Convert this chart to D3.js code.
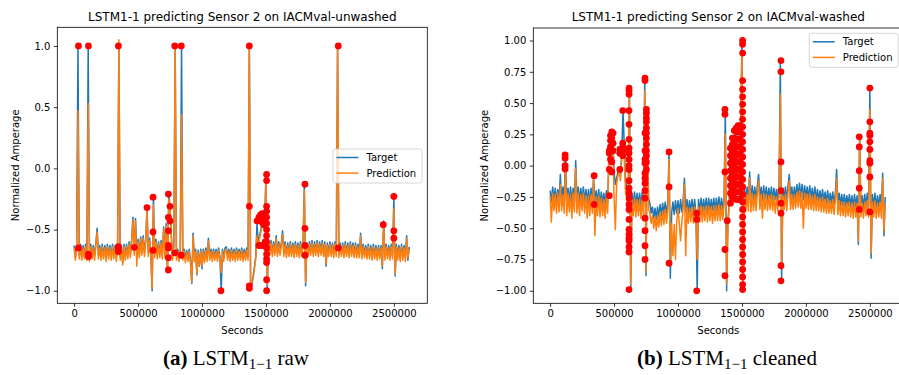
<!DOCTYPE html>
<html><head><meta charset="utf-8">
<script src="https://cdn.jsdelivr.net/npm/d3@7/dist/d3.min.js"></script>
<style>
body{margin:0;background:#fff;}
svg{display:block;}
text{font-family:"DejaVu Sans",sans-serif;fill:#000;}
.cap{font-family:"Liberation Serif","Times New Roman",serif;}
</style></head>
<body>
<svg id="chart" width="899" height="375"></svg>
<script>
// ---------------- DATA ----------------
const sampleStep = 10000; // seconds between samples
const xTicks = [0, 500000, 1000000, 1500000, 2000000, 2500000];
const leftYTicks = [-1.0, -0.5, 0.0, 0.5, 1.0];
const rightYTicks = [-1.0, -0.75, -0.5, -0.25, 0.0, 0.25, 0.5, 0.75, 1.0];
const seriesNames = ["Target", "Prediction"];
const titles = ["LSTM1-1 predicting Sensor 2 on IACMval-unwashed", "LSTM1-1 predicting Sensor 2 on IACMval-washed"];

const leftTarget = [
-0.63,-0.72,-0.64,1.00,-0.71,-0.62,-0.72,-0.63,-0.71,-0.62,
-0.72,1.00,-0.73,-0.62,-0.71,-0.63,-0.72,-0.61,-0.49,-0.71,
-0.63,-0.72,-0.62,-0.71,-0.63,-0.73,-0.62,-0.71,-0.63,-0.72,
-0.62,-0.71,-0.63,-0.73,-0.62,1.00,-0.72,-0.63,-0.77,-0.62,
-0.72,-0.62,-0.71,-0.60,-0.70,-0.58,-0.40,-0.68,-0.41,-0.70,
-0.58,-0.70,-0.56,-0.68,-0.55,-0.69,-0.58,-0.32,-0.69,-0.57,
-0.70,-1.00,-0.235,-0.70,-0.58,-0.71,-0.60,-0.70,-0.59,-0.71,
-0.48,-0.70,-0.45,-0.85,-0.21,-0.31,-0.55,-0.72,-0.62,1.00,
-0.72,-0.66,-0.73,-0.67,1.00,-0.72,-0.66,-0.74,-0.67,-0.73,
-0.66,-0.75,-0.94,-0.53,-0.73,-0.66,-0.87,-0.67,-0.80,-0.66,
-0.82,-0.66,-0.74,-0.65,-0.73,-0.57,-0.72,-0.66,-0.73,-0.66,
-0.72,-0.66,-0.73,-0.65,-0.72,-1.00,-0.66,-0.73,-0.65,-0.64,
-0.72,-0.66,-0.73,-0.65,-0.72,-0.66,-0.73,-0.65,-0.72,-0.66,
-0.72,-0.65,-0.73,-0.66,-0.72,-0.65,-0.72,1.00,-0.98,-0.95,
-0.88,-0.80,-0.72,-0.45,-0.62,-0.55,-0.50,-0.45,-0.40,-0.43,
-0.05,-1.00,-0.60,-0.68,-0.59,-0.69,-0.60,-0.68,-0.55,-0.69,
-0.60,-0.68,-0.61,-0.51,-0.69,-0.60,-0.70,-0.61,-0.69,-0.60,
-0.69,-0.61,-0.70,-0.60,-0.69,-0.61,-0.70,-0.60,-0.69,-0.61,
-0.13,-0.96,-0.61,-0.69,-0.60,-0.68,-0.59,-0.69,-0.60,-0.68,
-0.59,-0.69,-0.60,-0.68,-0.59,-0.69,-0.60,-0.80,-0.61,-0.69,
-0.60,-0.69,-0.61,-0.70,-0.60,-0.69,1.00,-0.70,-0.61,-0.69,
-0.61,-0.70,-0.60,-0.69,-0.61,-0.70,-0.60,-0.69,-0.61,-0.70,
-0.61,-0.70,-0.62,-0.70,-0.53,-0.71,-0.62,-0.70,-0.63,-0.71,
-0.62,-0.71,-0.63,-0.72,-0.62,-0.71,-0.63,-0.72,-0.63,-0.71,
-0.63,-0.82,-0.43,-0.72,-0.62,-0.71,-0.63,-0.72,-0.62,-0.71,
-0.23,-0.88,-0.62,-0.72,-0.63,-0.73,-0.62,-0.72,-0.63,-0.73,
-0.55,-0.75,-0.64];

const leftPrediction = [
-0.65,-0.75,-0.66,0.47,-0.74,-0.64,-0.75,-0.65,-0.74,-0.64,
-0.75,0.53,-0.76,-0.64,-0.74,-0.65,-0.75,-0.63,-0.52,-0.74,
-0.65,-0.75,-0.64,-0.74,-0.65,-0.76,-0.64,-0.74,-0.65,-0.75,
-0.64,-0.74,-0.65,-0.76,-0.64,1.05,-0.75,-0.65,-0.79,-0.64,
-0.75,-0.64,-0.74,-0.62,-0.73,-0.60,-0.42,-0.71,-0.43,-0.80,
-0.60,-0.73,-0.58,-0.71,-0.57,-0.72,-0.60,-0.34,-0.72,-0.59,
-0.73,-0.98,-0.30,-0.73,-0.60,-0.74,-0.62,-0.73,-0.61,-0.74,
-0.50,-0.73,-0.47,-0.85,-0.25,-0.33,-0.57,-0.75,-0.64,1.00,
-0.75,-0.68,-0.76,-0.69,0.44,-0.75,-0.68,-0.77,-0.69,-0.76,
-0.68,-0.78,-0.93,-0.55,-0.76,-0.68,-0.86,-0.69,-0.79,-0.68,
-0.80,-0.68,-0.77,-0.67,-0.76,-0.59,-0.75,-0.68,-0.76,-0.68,
-0.75,-0.68,-0.76,-0.67,-0.75,-0.85,-0.68,-0.76,-0.67,-0.66,
-0.75,-0.68,-0.76,-0.67,-0.75,-0.68,-0.76,-0.67,-0.75,-0.68,
-0.75,-0.67,-0.76,-0.68,-0.75,-0.67,-0.75,1.00,-0.96,-0.92,
-0.90,-0.82,-0.74,-0.55,-0.64,-0.57,-0.52,-0.47,-0.42,-0.46,
-0.10,-0.95,-0.62,-0.71,-0.61,-0.72,-0.62,-0.71,-0.57,-0.72,
-0.62,-0.71,-0.63,-0.54,-0.72,-0.62,-0.73,-0.63,-0.72,-0.62,
-0.72,-0.63,-0.73,-0.62,-0.72,-0.63,-0.73,-0.62,-0.72,-0.63,
-0.18,-0.93,-0.63,-0.72,-0.62,-0.71,-0.61,-0.72,-0.62,-0.71,
-0.61,-0.72,-0.62,-0.71,-0.61,-0.72,-0.62,-0.78,-0.63,-0.72,
-0.62,-0.72,-0.63,-0.73,-0.62,-0.72,1.00,-0.73,-0.63,-0.72,
-0.63,-0.73,-0.62,-0.72,-0.63,-0.73,-0.62,-0.72,-0.63,-0.73,
-0.63,-0.73,-0.64,-0.73,-0.55,-0.74,-0.64,-0.73,-0.65,-0.74,
-0.64,-0.74,-0.65,-0.75,-0.64,-0.74,-0.65,-0.75,-0.65,-0.74,
-0.65,-0.80,-0.45,-0.75,-0.64,-0.74,-0.65,-0.75,-0.64,-0.74,
-0.33,-0.86,-0.64,-0.75,-0.65,-0.76,-0.64,-0.75,-0.65,-0.76,
-0.57,-0.73,-0.66];

const rightTarget = [
-0.20,-0.29,-0.17,-0.28,-0.18,-0.30,-0.19,-0.28,-0.07,-0.29,
-0.17,-0.29,0.09,-0.30,-0.18,-0.29,-0.17,-0.30,-0.18,-0.29,
0.04,-0.29,-0.17,-0.30,-0.18,-0.28,-0.17,-0.29,-0.19,-0.30,
-0.19,-0.31,-0.18,-0.30,-0.08,-0.31,-0.20,-0.31,-0.19,-0.32,
-0.21,-0.31,-0.22,-0.32,-0.20,-0.30,0.12,0.27,0.20,0.24,
-0.05,-0.15,-0.10,-0.05,-0.03,-0.08,0.10,0.44,0.15,-0.12,
-0.18,-0.30,0.62,-0.99,-0.22,-0.32,-0.21,-0.33,-0.22,-0.32,
-0.22,-0.33,-0.21,-0.32,0.70,-0.88,0.45,-0.26,-0.30,-0.38,
-0.33,-0.42,-0.34,-0.43,-0.33,-0.41,-0.31,-0.40,-0.30,-0.39,
-0.29,-0.38,-0.30,0.11,-0.90,-0.38,-0.29,-0.39,-0.28,-0.38,
-0.28,-0.38,-0.27,-0.37,-0.28,-0.10,-0.37,-0.27,-0.38,-0.28,
-0.37,-0.27,-0.38,-0.27,-0.38,-1.00,-0.27,-0.37,-0.26,-0.37,
-0.27,-0.36,-0.26,-0.37,-0.26,-0.36,-0.27,-0.36,-0.26,-0.37,
-0.26,-0.36,-0.25,-0.36,-0.26,-0.35,-0.26,0.45,-1.00,-0.44,
-0.30,0.10,-0.25,0.20,-0.15,0.30,-0.10,0.25,-0.20,0.32,
1.00,-1.00,-0.18,-0.29,-0.17,-0.28,-0.05,-0.29,-0.16,-0.28,
-0.17,-0.28,-0.16,-0.07,-0.27,-0.17,-0.28,-0.16,-0.27,-0.17,
-0.28,-0.18,-0.27,-0.17,-0.28,-0.18,-0.27,-0.19,-0.28,-0.18,
0.84,-0.92,-0.18,-0.27,-0.17,-0.28,-0.16,-0.07,-0.27,-0.17,
-0.27,-0.17,-0.26,-0.15,-0.25,-0.14,-0.26,-0.15,-0.27,-0.16,
-0.26,-0.17,-0.27,-0.16,-0.27,-0.18,-0.28,-0.17,-0.28,-0.19,
-0.28,-0.20,-0.29,-0.19,-0.29,-0.21,-0.30,-0.20,-0.30,-0.22,
-0.30,-0.21,-0.31,-0.22,-0.03,-0.31,-0.22,-0.32,-0.23,-0.32,
-0.23,-0.33,-0.24,-0.32,-0.23,-0.33,-0.24,-0.34,-0.23,-0.33,
-0.24,-0.63,0.23,-0.33,-0.24,-0.34,-0.23,-0.32,-0.22,-0.33,
0.62,-0.74,-0.23,-0.33,-0.22,-0.34,-0.24,-0.33,-0.23,-0.34,
-0.06,-0.56,-0.25];

const rightPrediction = [
-0.24,-0.45,-0.22,-0.36,-0.23,-0.38,-0.22,-0.37,-0.15,-0.36,
-0.23,-0.38,0.00,-0.40,-0.22,-0.37,-0.23,-0.42,-0.22,-0.37,
-0.02,-0.38,-0.22,-0.40,-0.23,-0.36,-0.22,-0.38,-0.24,-0.42,
-0.24,-0.40,-0.23,-0.38,-0.10,-0.56,-0.25,-0.40,-0.24,-0.41,
-0.26,-0.40,-0.27,-0.42,-0.25,-0.38,0.10,0.25,0.15,0.20,
-0.24,-0.51,-0.15,-0.08,-0.05,-0.12,0.05,0.18,0.05,-0.22,
-0.25,-0.38,0.55,-0.95,-0.27,-0.40,-0.26,-0.41,-0.27,-0.40,
-0.27,-0.42,-0.26,-0.41,0.60,-0.85,0.40,-0.35,-0.38,-0.46,
-0.40,-0.50,-0.41,-0.52,-0.40,-0.49,-0.37,-0.48,-0.36,-0.47,
-0.35,-0.46,-0.36,0.05,-0.78,-0.46,-0.72,-0.47,-0.75,-0.45,
-0.34,-0.46,-0.60,-0.45,-0.34,-0.15,-0.72,-0.33,-0.46,-0.34,
-0.45,-0.33,-0.46,-0.33,-0.43,-0.75,-0.33,-0.45,-0.32,-0.45,
-0.33,-0.44,-0.32,-0.45,-0.32,-0.44,-0.33,-0.46,-0.32,-0.44,
-0.32,-0.44,-0.31,-0.44,-0.32,-0.43,-0.32,0.25,-0.95,-0.50,
-0.32,0.05,-0.28,0.15,-0.20,0.25,-0.15,0.20,-0.25,0.28,
0.90,-0.95,-0.24,-0.37,-0.23,-0.36,-0.10,-0.37,-0.22,-0.36,
-0.23,-0.36,-0.22,-0.12,-0.35,-0.23,-0.42,-0.22,-0.35,-0.23,
-0.36,-0.24,-0.35,-0.23,-0.36,-0.24,-0.38,-0.25,-0.36,-0.24,
0.57,-0.80,-0.24,-0.35,-0.23,-0.36,-0.22,-0.12,-0.35,-0.23,
-0.35,-0.23,-0.34,-0.21,-0.33,-0.20,-0.34,-0.21,-0.50,-0.22,
-0.34,-0.23,-0.35,-0.22,-0.35,-0.24,-0.36,-0.23,-0.36,-0.25,
-0.36,-0.26,-0.37,-0.25,-0.37,-0.27,-0.38,-0.26,-0.38,-0.28,
-0.38,-0.27,-0.39,-0.28,-0.10,-0.39,-0.28,-0.40,-0.29,-0.40,
-0.29,-0.41,-0.30,-0.40,-0.29,-0.41,-0.30,-0.42,-0.29,-0.41,
-0.30,-0.60,0.20,-0.41,-0.30,-0.42,-0.29,-0.40,-0.28,-0.41,
0.45,-0.70,-0.29,-0.41,-0.28,-0.42,-0.30,-0.41,-0.29,-0.42,
-0.10,-0.52,-0.31];

// anomalies: [seconds, [values]]
const leftAnomalies = [
[34000,[1.0,-0.65]],
[112000,[1.0,-0.70,-0.72]],
[346000,[1.0,-0.64,-0.66,-0.68]],
[471000,[-0.645]],
[570000,[-0.32]],
[617000,[-0.235,-0.52,-0.67]],
[737000,[-0.21,-0.40,-0.51,-0.63,-0.65,-0.73,-0.83]],
[750000,[-0.31,-0.43]],
[787000,[1.0,-0.69]],
[838000,[1.0,-0.71]],
[1148000,[-1.0]],
[1370000,[1.0,-0.31,-0.96,-0.98]],
[1430000,[-0.43]],
[1445000,[-0.40,-0.63]],
[1458000,[-0.38,-0.42]],
[1470000,[-0.37,-0.41,-0.44,-0.63]],
[1482000,[-0.38,-0.42,-0.46]],
[1493000,[-0.40,-0.44,-0.60]],
[1505000,[-0.05,-0.10,-0.31,-0.35,-0.40,-0.45,-0.50,-0.55,-0.60,-0.65,-0.70,-0.74,-0.77,-0.91,-1.0]],
[1805000,[-0.13,-0.49,-0.63,-0.71]],
[2065000,[1.0,-0.65]],
[2417000,[-0.46]],
[2500000,[-0.23,-0.51,-0.57]]
];

const rightAnomalies = [
[117000,[0.085,0.06,0.0,-0.026]],
[344000,[-0.08,-0.31]],
[463000,[0.12,0.10,-0.03,-0.24]],
[472000,[0.24,0.20,0.15,0.05]],
[482000,[0.27,0.22,0.03,-0.05]],
[492000,[0.26,0.18,0.12]],
[545000,[-0.03,0.10,0.13]],
[568000,[0.44,0.18,0.15,0.12,0.08]],
[617000,[0.62,0.60,0.57,0.44,0.33,0.21,0.14,0.10,0.05,0.0,-0.03,-0.12,-0.18,-0.22,-0.26,-0.31,-0.35,-0.43,-0.51,-0.55,-0.58,-0.60,-0.65,-0.69,-0.99]],
[742000,[0.70,0.68,0.26,0.12,0.05,0.02,-0.06,-0.10,-0.14,-0.20,-0.26,-0.42,-0.52,-0.64,-0.75]],
[753000,[0.45,0.42,0.38,0.35,0.30,0.26,0.22,0.17,0.12,0.08,0.03,-0.03]],
[930000,[0.11,-0.17,-0.78]],
[1146000,[-0.38,-0.43,-1.0]],
[1367000,[0.45,0.41,-0.05,-0.67,-0.88]],
[1385000,[-0.44]],
[1410000,[-0.30,-0.22,-0.16,-0.10,-0.04,0.02,0.08,0.14]],
[1425000,[-0.25,-0.19,-0.13,-0.07,-0.01,0.05,0.11,0.17,0.22]],
[1440000,[-0.26,-0.20,-0.14,-0.08,-0.02,0.04,0.10,0.16,0.22,0.28]],
[1455000,[-0.27,-0.21,-0.15,-0.09,-0.03,0.03,0.09,0.15,0.21,0.27,0.30]],
[1470000,[-0.27,-0.21,-0.15,-0.09,-0.03,0.03,0.09,0.15,0.21,0.27,0.32]],
[1485000,[-0.27,-0.21,-0.15,-0.09,-0.03,0.03,0.09,0.15,0.21,0.27,0.32]],
[1505000,[1.0,0.97,0.90,0.68,0.61,0.55,0.49,0.43,0.37,0.31,0.25,0.19,0.13,0.07,0.01,-0.05,-0.11,-0.17,-0.23,-0.29,-0.35,-0.41,-0.47,-0.53,-0.59,-0.65,-0.71,-0.77,-0.83,-0.89,-0.95,-0.99]],
[1805000,[0.84,0.75,0.03,-0.20,-0.30,-0.38,-0.80,-0.92]],
[2417000,[0.23,0.15,-0.04,-0.18,-0.35]],
[2500000,[0.62,0.35,0.26,0.24,0.19,0.13,0.04,0.02,-0.09,-0.37]]
];

// ---------------- DRAW ----------------
const svg = d3.select("#chart");
const colors = {target:"#1f77b4", pred:"#ff7f0e", dot:"#ff0000"};

function panel(cfg){
  const g = svg.append("g");
  const x = d3.scaleLinear().domain([-131500, 2761500]).range([cfg.left, cfg.left+370]);
  const y = d3.scaleLinear().domain(cfg.yDomain).range([303.3, cfg.top]);
  const clipId = "clip"+cfg.id;
  svg.append("defs").append("clipPath").attr("id", clipId)
    .append("rect").attr("x", cfg.left).attr("y", cfg.top).attr("width", 370).attr("height", 303.3-cfg.top);

  const line = d3.line().x((d,i)=>x(i*sampleStep)).y(d=>y(d));
  const plot = g.append("g").attr("clip-path", `url(#${clipId})`);
  plot.append("path").datum(cfg.target).attr("d", line)
    .attr("fill","none").attr("stroke",colors.target).attr("stroke-width",1.5).attr("stroke-linejoin","round");
  plot.append("path").datum(cfg.pred).attr("d", line)
    .attr("fill","none").attr("stroke",colors.pred).attr("stroke-width",1.5).attr("stroke-linejoin","round");
  const dots = [];
  cfg.anom.forEach(([t, vs]) => vs.forEach(v => dots.push([t, v])));
  plot.selectAll("circle").data(dots).enter().append("circle")
    .attr("cx", d=>x(d[0])).attr("cy", d=>y(d[1])).attr("r", 3.4).attr("fill", colors.dot);

  // axes
  const fmtX = d => String(d);
  const xAxis = d3.axisBottom(x).tickValues(xTicks).tickFormat(fmtX).tickSizeOuter(0).tickSize(3.5).tickPadding(3.5);
  const yAxis = d3.axisLeft(y).tickValues(cfg.yTicks).tickFormat(d => d3.format(cfg.yFmt)(d).replace("-", "\u2212")).tickSizeOuter(0).tickSize(3.5).tickPadding(3.5);
  const gx = g.append("g").attr("transform",`translate(0,303.3)`).call(xAxis);
  const gy = g.append("g").attr("transform",`translate(${cfg.left},0)`).call(yAxis);
  [gx, gy].forEach(a => {
    a.select(".domain").remove();
    a.selectAll("line").attr("stroke","#000").attr("stroke-width",0.8);
    a.selectAll("text").attr("font-size","10px").attr("font-family","DejaVu Sans").attr("fill","#000");
  });
  // frame
  g.append("rect").attr("x",cfg.left).attr("y",cfg.top).attr("width",370).attr("height",303.3-cfg.top)
    .attr("fill","none").attr("stroke","#000").attr("stroke-width",0.8);

  // title & labels
  g.append("text").attr("x",cfg.cx).attr("y",21).attr("text-anchor","middle").attr("font-size","12px").text(cfg.title);
  g.append("text").attr("x",cfg.cx).attr("y",334).attr("text-anchor","middle").attr("font-size","10px").text("Seconds");
  g.append("text").attr("transform",`translate(${cfg.ylx},${(cfg.top+303.3)/2}) rotate(-90)`)
    .attr("text-anchor","middle").attr("dy","0.35em").attr("font-size","10px").text("Normalized Amperage");

  // legend
  const L = cfg.legend;
  const lg = g.append("g");
  lg.append("rect").attr("x",L.x).attr("y",L.y).attr("width",89).attr("height",34).attr("rx",2.5)
    .attr("fill","#fff").attr("fill-opacity",0.8).attr("stroke","#cccccc").attr("stroke-width",0.8);
  [[seriesNames[0],colors.target],[seriesNames[1],colors.pred]].forEach(([name,c],k)=>{
    const yy = L.y + 8.5 + k*15.6;
    lg.append("line").attr("x1",L.x+3.5).attr("x2",L.x+25.5).attr("y1",yy).attr("y2",yy).attr("stroke",c).attr("stroke-width",1.5);
    lg.append("text").attr("x",L.x+33.5).attr("y",yy).attr("dy","0.35em").attr("font-size","10px").text(name);
  });
}

panel({id:"L", left:57.3, top:27.3, yDomain:[-1.1024,1.1524], yTicks:leftYTicks, yFmt:".1f",
  target:leftTarget, pred:leftPrediction, anom:leftAnomalies, title:titles[0], cx:242.3, ylx:15.5,
  legend:{x:333,y:149}});
panel({id:"R", left:533.3, top:28, yDomain:[-1.1,1.1], yTicks:rightYTicks, yFmt:".2f",
  target:rightTarget, pred:rightPrediction, anom:rightAnomalies, title:titles[1], cx:718.3, ylx:484.5,
  legend:{x:809.3,y:33.3}});

// captions
function caption(cx, letter, word){
  const t = svg.append("text").attr("class","cap").attr("x",cx).attr("y",365).attr("text-anchor","middle").attr("font-size","21px");
  t.append("tspan").attr("font-weight","bold").text(letter);
  t.append("tspan").text(" LSTM");
  t.append("tspan").attr("font-size","15px").attr("dy","3.5").text("1\u22121");
  t.append("tspan").attr("dy","-3.5").text(" " + word);
}
caption(236, "(a)", "raw");
caption(727, "(b)", "cleaned");
</script>
</body></html>
